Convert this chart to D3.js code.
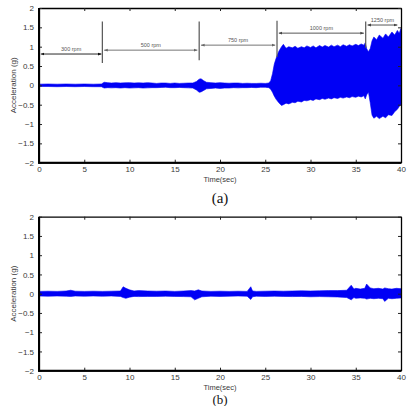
<!DOCTYPE html>
<html>
<head>
<meta charset="utf-8">
<title>Acceleration vs time</title>
<style>
  body { margin: 0; background: #fff; }
</style>
</head>
<body>
<script src="https://cdn.jsdelivr.net/npm/d3@7"></script>
<script>
// signal envelopes (time in s, acceleration in g)
var timeA  = [0, 1, 2, 3, 4, 5, 6, 6.9, 7.2, 7.6, 8, 8.5, 9, 9.5, 10, 10.5, 11, 11.5, 12, 12.5, 13, 13.5, 14, 14.5, 15, 15.5, 16, 16.5, 17, 17.4, 17.7, 17.9, 18.2, 18.5, 19, 19.5, 20, 20.5, 21, 21.5, 22, 22.5, 23, 23.5, 24, 24.5, 25, 25.4, 25.6, 25.8, 26, 26.2, 26.5, 26.8, 27, 27.3, 27.6, 28, 28.3, 28.6, 29, 29.3, 29.6, 30, 30.3, 30.6, 31, 31.3, 31.6, 32, 32.3, 32.6, 33, 33.3, 33.6, 34, 34.3, 34.6, 35, 35.3, 35.6, 35.9, 36.05, 36.2, 36.4, 36.6, 36.8, 37, 37.3, 37.6, 38, 38.3, 38.6, 39, 39.3, 39.6, 39.8, 40];
var upperA = [0.03, 0.035, 0.03, 0.035, 0.03, 0.035, 0.03, 0.035, 0.08, 0.07, 0.06, 0.07, 0.06, 0.065, 0.07, 0.06, 0.065, 0.06, 0.07, 0.06, 0.05, 0.06, 0.06, 0.05, 0.06, 0.05, 0.055, 0.06, 0.06, 0.1, 0.16, 0.17, 0.12, 0.08, 0.07, 0.06, 0.07, 0.06, 0.055, 0.06, 0.06, 0.05, 0.055, 0.05, 0.05, 0.055, 0.05, 0.06, 0.12, 0.3, 0.55, 0.7, 0.88, 1.0, 1.06, 0.96, 1.0, 0.97, 1.01, 0.96, 1.0, 0.97, 1.02, 0.98, 1.02, 0.97, 1.03, 0.99, 1.03, 0.99, 1.04, 1.0, 1.04, 1.0, 1.05, 1.01, 1.05, 1.02, 1.06, 1.03, 1.07, 1.04, 1.1, 0.95, 0.87, 0.95, 1.15, 1.25, 1.18, 1.3, 1.22, 1.33, 1.25, 1.38, 1.3, 1.42, 1.35, 1.47, 1.38];
var lowerA = [-0.03, -0.03, -0.035, -0.03, -0.035, -0.03, -0.035, -0.035, -0.07, -0.06, -0.065, -0.06, -0.07, -0.06, -0.07, -0.065, -0.06, -0.07, -0.065, -0.06, -0.06, -0.055, -0.05, -0.06, -0.06, -0.055, -0.06, -0.065, -0.07, -0.12, -0.18, -0.17, -0.13, -0.09, -0.08, -0.07, -0.08, -0.07, -0.07, -0.06, -0.065, -0.06, -0.06, -0.055, -0.06, -0.05, -0.05, -0.06, -0.1, -0.18, -0.28, -0.36, -0.45, -0.52, -0.5, -0.46, -0.48, -0.44, -0.45, -0.41, -0.43, -0.39, -0.4, -0.37, -0.39, -0.35, -0.37, -0.34, -0.36, -0.33, -0.35, -0.32, -0.34, -0.31, -0.33, -0.3, -0.32, -0.29, -0.31, -0.28, -0.3, -0.27, -0.35, -0.25, -0.17, -0.45, -0.77, -0.85, -0.8, -0.86, -0.8, -0.84, -0.76, -0.78, -0.68, -0.62, -0.55, -0.5, -0.35];

var timeB  = [0, 1, 2, 3, 3.5, 4, 5, 6, 7, 8, 9, 9.3, 9.6, 10, 10.5, 11, 12, 13, 14, 15, 16, 16.8, 17.2, 17.6, 18, 19, 20, 21, 22, 23, 23.4, 23.6, 24, 25, 26, 27, 28, 29, 30, 31, 32, 33, 34, 34.5, 34.8, 35, 35.5, 36, 36.2, 36.6, 37, 37.5, 38, 38.2, 38.6, 39, 39.5, 40];
var upperB = [0.06, 0.065, 0.06, 0.07, 0.09, 0.065, 0.06, 0.065, 0.06, 0.065, 0.07, 0.18, 0.14, 0.1, 0.07, 0.08, 0.07, 0.065, 0.07, 0.06, 0.07, 0.08, 0.07, 0.1, 0.07, 0.06, 0.065, 0.06, 0.065, 0.06, 0.18, 0.07, 0.06, 0.065, 0.07, 0.065, 0.07, 0.075, 0.07, 0.075, 0.08, 0.08, 0.09, 0.22, 0.12, 0.14, 0.12, 0.14, 0.25, 0.15, 0.13, 0.14, 0.12, 0.15, 0.13, 0.12, 0.14, 0.13];
var lowerB = [-0.06, -0.065, -0.06, -0.065, -0.07, -0.06, -0.065, -0.06, -0.065, -0.06, -0.07, -0.1, -0.12, -0.09, -0.07, -0.075, -0.07, -0.07, -0.065, -0.07, -0.075, -0.08, -0.16, -0.12, -0.08, -0.065, -0.07, -0.065, -0.06, -0.065, -0.15, -0.08, -0.065, -0.07, -0.065, -0.07, -0.075, -0.07, -0.08, -0.075, -0.08, -0.085, -0.1, -0.16, -0.1, -0.12, -0.11, -0.12, -0.14, -0.12, -0.13, -0.12, -0.13, -0.2, -0.12, -0.13, -0.12, -0.11];

var xTicks = [0, 5, 10, 15, 20, 25, 30, 35, 40];
var yTicks = [2, 1.5, 1, 0.5, 0, -0.5, -1, -1.5, -2];

// speed annotations on panel (a)
var rpmLabels = ["300 rpm", "500 rpm", "750 rpm", "1000 rpm", "1250 rpm"];
var rpmStart  = [0.2, 7.2, 17.9, 26.5, 36.3];
var rpmEnd    = [6.9, 17.5, 26.1, 35.9, 39.6];
var rpmLevel  = [0.81, 0.91, 1.04, 1.35, 1.56];
var rpmColor  = ["#111", "#666", "#666", "#444", "#444"];
var dividerT      = [7, 17.7, 26.3, 36.1];
var dividerTop    = [1.65, 1.65, 1.67, 1.65];
var dividerBottom = [0.58, 0.65, 0.73, 0.97];

var sans = "'Liberation Sans', Arial, sans-serif";
var width = 409, height = 406;
var svg = d3.select("body").append("svg")
    .attr("width", width)
    .attr("height", height);

var defs = svg.append("defs");
["#111", "#666", "#444"].forEach(function (c, i) {
    defs.append("marker")
        .attr("id", "arr" + i)
        .attr("viewBox", "0 0 10 10")
        .attr("refX", 10).attr("refY", 5)
        .attr("markerWidth", 4).attr("markerHeight", 4)
        .attr("orient", "auto-start-reverse")
        .append("path")
        .attr("d", "M0,1L10,5L0,9z")
        .attr("fill", c);
});
var markerIndex = { "#111": 0, "#666": 1, "#444": 2 };

function panel(top, bottom, times, upper, lower, name, labelY, labelSize) {
    var x = d3.scaleLinear().domain([0, 40]).range([39, 401]);
    var y = d3.scaleLinear().domain([-2, 2]).range([bottom, top]);
    var g = svg.append("g");

    var rows = times.map(function (t, i) { return { t: t, hi: upper[i], lo: lower[i] }; });
    g.append("path")
        .datum(rows)
        .attr("fill", "#0000f5")
        .attr("stroke", "#0000f5")
        .attr("stroke-width", 0.6)
        .attr("d", d3.area()
            .x(function (d) { return x(d.t); })
            .y0(function (d) { return y(d.lo); })
            .y1(function (d) { return y(d.hi); }));

    // inward ticks on all four sides
    var fmt = d3.format("");
    g.append("g").attr("transform", "translate(0," + bottom + ")")
        .call(d3.axisBottom(x).tickValues(xTicks).tickFormat(fmt).tickSizeInner(-3).tickSizeOuter(0).tickPadding(5));
    g.append("g").attr("transform", "translate(0," + top + ")")
        .call(d3.axisTop(x).tickValues(xTicks).tickSizeInner(-3).tickSizeOuter(0).tickFormat(""));
    g.append("g").attr("transform", "translate(39,0)")
        .call(d3.axisLeft(y).tickValues(yTicks).tickFormat(fmt).tickSizeInner(-3).tickSizeOuter(0).tickPadding(5));
    g.append("g").attr("transform", "translate(401,0)")
        .call(d3.axisRight(y).tickValues(yTicks).tickSizeInner(-3).tickSizeOuter(0).tickFormat(""));

    g.selectAll(".tick line").attr("stroke", "#222").attr("stroke-width", 1);
    g.selectAll(".domain").attr("stroke", "#000").attr("stroke-width", 1.3);
    g.selectAll(".tick text").attr("fill", "#3a3a3a").attr("font-size", 8)
        .style("font-family", sans);
    // the x tick labels sit right under the axis
    g.selectAll(".tick text").filter(function () { return this.getAttribute("y") > 0; }).attr("y", 4);

    // heavier left and bottom spines
    g.append("line").attr("x1", 39).attr("x2", 39).attr("y1", top).attr("y2", bottom + 1)
        .attr("stroke", "#000").attr("stroke-width", 2);
    g.append("line").attr("x1", 38).attr("x2", 401).attr("y1", bottom).attr("y2", bottom)
        .attr("stroke", "#000").attr("stroke-width", 2);

    g.append("text")
        .attr("transform", "translate(16," + y(0) + ") rotate(-90)")
        .attr("text-anchor", "middle")
        .attr("font-size", 8)
        .attr("fill", "#3a3a3a")
        .style("font-family", sans)
        .text("Acceleration (g)");
    g.append("text")
        .attr("x", 220).attr("y", bottom + 19.5)
        .attr("text-anchor", "middle")
        .attr("font-size", 7.5)
        .attr("fill", "#3a3a3a")
        .style("font-family", sans)
        .text("Time(sec)");
    g.append("text")
        .attr("x", 220).attr("y", labelY)
        .attr("text-anchor", "middle")
        .attr("font-size", labelSize)
        .style("font-family", "'Liberation Serif', 'Times New Roman', serif")
        .attr("fill", "#111")
        .text(name);
    return { x: x, y: y, g: g };
}

var a = panel(8, 162.7, timeA, upperA, lowerA, "(a)", 203, 15);
panel(216.7, 370.7, timeB, upperB, lowerB, "(b)", 403.5, 13);

// speed sections on panel (a)
dividerT.forEach(function (t, i) {
    a.g.append("line")
        .attr("x1", a.x(t)).attr("x2", a.x(t))
        .attr("y1", a.y(dividerTop[i])).attr("y2", a.y(dividerBottom[i]))
        .attr("stroke", "#555").attr("stroke-width", 1.2);
});
rpmLabels.forEach(function (lab, i) {
    var c = rpmColor[i];
    a.g.append("line")
        .attr("x1", a.x(rpmStart[i])).attr("x2", a.x(rpmEnd[i]))
        .attr("y1", a.y(rpmLevel[i])).attr("y2", a.y(rpmLevel[i]))
        .attr("stroke", c).attr("stroke-width", 0.9)
        .attr("marker-start", "url(#arr" + markerIndex[c] + ")")
        .attr("marker-end", "url(#arr" + markerIndex[c] + ")");
    a.g.append("text")
        .attr("x", (a.x(rpmStart[i]) + a.x(rpmEnd[i])) / 2)
        .attr("y", a.y(rpmLevel[i]) - 3)
        .attr("text-anchor", "middle")
        .attr("font-size", 5.5)
        .attr("fill", "#555")
        .style("font-family", sans)
        .text(lab);
});
</script>
</body>
</html>
